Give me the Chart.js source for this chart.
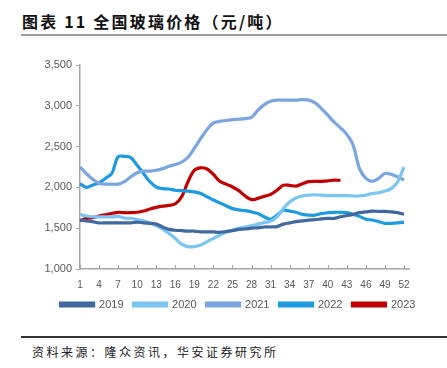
<!DOCTYPE html>
<html>
<head>
<meta charset="utf-8">
<script src="https://cdn.jsdelivr.net/npm/chart.js@4.4.0/dist/chart.umd.min.js"></script>
<style>
  body { margin: 0; background: #fff; width: 447px; height: 368px; position: relative; overflow: hidden; }
  #title { position: absolute; left: 22px; top: 11px; font: bold 16px "Noto Sans CJK SC", sans-serif; letter-spacing: 2.2px; color: #111; line-height: 20px; }
  #topLine { position: absolute; left: 21px; top: 34px; width: 426px; height: 2px; background: #9a9a9a; }
  #bottomLine { position: absolute; left: 21px; top: 336px; width: 426px; height: 1.5px; background: #333; }
  #source { position: absolute; left: 32px; top: 343px; font: 12px "Noto Sans CJK SC", sans-serif; letter-spacing: 2.5px; color: #222; line-height: 18px; }
  #box { position: absolute; left: 0; top: 50px; width: 447px; height: 276px; }
</style>
</head>
<body>
<div id="title">图表 11 全国玻璃价格（元/吨）</div>
<div id="topLine"></div>
<div id="box"><canvas id="glassChart"></canvas></div>
<div id="bottomLine"></div>
<div id="source">资料来源：隆众资讯，华安证券研究所</div>
<script>
// weeks 1..52
var weeks = [];
for (var i = 1; i <= 52; i++) weeks.push(String(i));

var years = ["2019", "2020", "2021", "2022", "2023"];
var colors = ["#41689f", "#7cc4f2", "#7aa5df", "#1e9ae0", "#c00000"];

var p2019 = [1600,1590,1580,1565,1565,1565,1565,1565,1565,1575,1565,1560,1550,1515,1485,1475,1470,1465,1465,1455,
             1455,1455,1450,1460,1470,1485,1490,1500,1505,1515,1515,1520,1550,1565,1580,1590,1600,1605,1615,1620,
             1620,1640,1655,1670,1690,1700,1710,1705,1705,1700,1690,1670];
var p2020 = [1670,1650,1640,1640,1640,1640,1645,1625,1620,1605,1590,1565,1530,1490,1435,1375,1305,1275,1275,1295,
             1335,1375,1415,1450,1475,1500,1515,1530,1550,1570,1585,1640,1740,1820,1870,1895,1905,1910,1905,1900,
             1900,1900,1900,1895,1895,1905,1925,1935,1955,1985,2070,2250];
var p2021 = [2250,2170,2100,2050,2040,2040,2040,2070,2130,2180,2200,2200,2210,2230,2260,2280,2310,2370,2480,2600,
             2710,2790,2810,2820,2830,2835,2843,2860,2945,3015,3055,3070,3070,3070,3070,3075,3070,3035,2965,2885,
             2800,2730,2650,2515,2230,2110,2075,2110,2170,2160,2130,2090];
var p2022 = [2047,2000,2030,2055,2110,2170,2375,2380,2365,2270,2170,2070,2005,1985,1980,1965,1960,1955,1945,1925,
             1885,1845,1810,1775,1740,1725,1715,1700,1680,1640,1610,1660,1720,1710,1695,1670,1660,1660,1680,1690,
             1695,1695,1690,1670,1645,1610,1600,1580,1560,1560,1565,1575];
var p2023 = [1590,1620,1630,1650,1665,1680,1695,1690,1690,1695,1710,1735,1755,1770,1780,1800,1885,2070,2210,2240,
             2225,2160,2075,2040,2005,1960,1895,1850,1865,1890,1915,1965,2025,2025,2015,2045,2070,2075,2075,2080,
             2090,2085];

var yTicks = [1000, 1500, 2000, 2500, 3000, 3500];

var series = [p2019, p2020, p2021, p2022, p2023];
var datasets = [];
for (var s = 0; s < series.length; s++) {
    datasets.push({
        label: years[s],
        data: series[s],
        borderColor: colors[s],
        backgroundColor: colors[s],
        borderWidth: 3.2,
        pointRadius: 0,
        tension: 0.35,
        fill: false
    });
}

// small tick marks on the x axis, pointing up like the source chart
var innerTicks = {
    id: 'innerTicks',
    afterLayout: function(chart) {
        // source legend sits a bit right of centre and a little higher
        chart.legend.left += 36;
        chart.legend.right += 36;
        chart.legend.top -= 6;
        chart.legend.bottom -= 6;
    },
    afterDraw: function(chart) {
        var x = chart.scales.x, ctx = chart.ctx;
        ctx.save();
        ctx.strokeStyle = '#a6a6a6';
        ctx.lineWidth = 1;
        for (var i = 0; i < weeks.length; i += 3) {
            var px = Math.round(x.getPixelForValue(i)) + 0.5;
            ctx.beginPath();
            ctx.moveTo(px, x.top);
            ctx.lineTo(px, x.top - 4);
            ctx.stroke();
        }
        // axis runs slightly past the last week
        ctx.lineWidth = 1.5;
        ctx.beginPath();
        ctx.moveTo(x.right, x.top);
        ctx.lineTo(x.right + 6, x.top);
        ctx.stroke();
        ctx.restore();
    }
};

var glassCtx = document.getElementById('glassChart').getContext('2d');
var glassChart = new Chart(glassCtx, {
    type: 'line',
    data: { labels: weeks, datasets: datasets },
    plugins: [innerTicks],
    options: {
        responsive: true,
        maintainAspectRatio: false,
        animation: false,
        layout: { padding: { top: 15, right: 43, left: 0, bottom: 0 } },
        plugins: {
            legend: {
                display: true,
                position: 'bottom',
                labels: {
                    boxWidth: 33,
                    boxHeight: 3,
                    padding: 10,
                    color: '#595959',
                    font: { family: 'Liberation Sans, Arial, sans-serif', size: 11 }
                }
            },
            tooltip: { enabled: false }
        },
        scales: {
            x: {
                offset: false,
                grid: { display: false, drawTicks: false },
                border: { display: true, color: '#a6a6a6', width: 1.5 },
                ticks: {
                    autoSkip: false,
                    maxRotation: 0,
                    padding: 10,
                    color: '#595959',
                    font: { family: 'Liberation Sans, Arial, sans-serif', size: 10 },
                    callback: function(val, idx) { return idx % 3 === 0 ? weeks[idx] : ''; }
                },
                afterFit: function(scale) { scale.height = 26; }
            },
            y: {
                min: 1000,
                max: 3500,
                afterBuildTicks: function(scale) {
                    scale.ticks = yTicks.map(function(v) { return { value: v }; });
                },
                grid: { display: true, drawOnChartArea: false, drawTicks: true, tickLength: 4, color: '#a6a6a6' },
                border: { display: true, color: '#a6a6a6', width: 1.5 },
                ticks: {
                    padding: 4,
                    color: '#595959',
                    font: { family: 'Liberation Sans, Arial, sans-serif', size: 11 },
                    callback: function(v) { return v.toLocaleString('en-US'); }
                },
                afterFit: function(scale) { scale.width = 80; }
            }
        }
    }
});
</script>
</body>
</html>
